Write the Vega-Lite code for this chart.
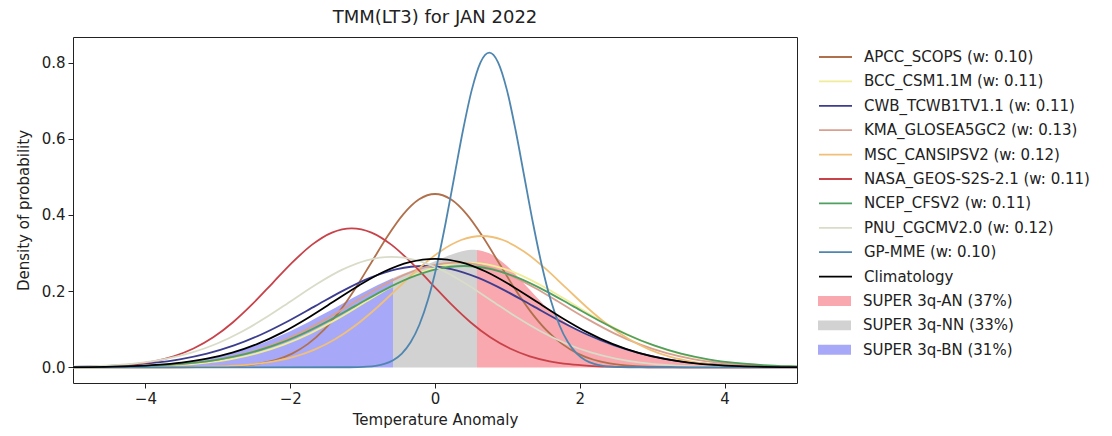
{
"$schema":"https://vega.github.io/schema/vega-lite/v6.json",
"width":724,"height":346,
"autosize":{"type":"none"},
"padding":{"left":73,"top":37,"right":315,"bottom":53},
"background":"white",
"config":{"font":"DejaVu Sans","view":{"stroke":"#222","strokeWidth":1}},
"title":{"text":"TMM(LT3) for JAN 2022","fontSize":18,"fontWeight":"normal","color":"#222","offset":10,"font":"DejaVu Sans"},
"datasets":{
"fills":[
{"m":"SUPER 3q-BN (31%)","x":-5,"y":0.0006},{"m":"SUPER 3q-BN (31%)","x":-4.5,"y":0.0018},{"m":"SUPER 3q-BN (31%)","x":-4,"y":0.0051},{"m":"SUPER 3q-BN (31%)","x":-3.5,"y":0.013},{"m":"SUPER 3q-BN (31%)","x":-3,"y":0.0288},{"m":"SUPER 3q-BN (31%)","x":-2.5,"y":0.0558},{"m":"SUPER 3q-BN (31%)","x":-2,"y":0.0951},{"m":"SUPER 3q-BN (31%)","x":-1.5,"y":0.1441},{"m":"SUPER 3q-BN (31%)","x":-1,"y":0.1961},{"m":"SUPER 3q-BN (31%)","x":-0.58,"y":0.2344},
{"m":"SUPER 3q-NN (33%)","x":-0.58,"y":0.2344},{"m":"SUPER 3q-NN (33%)","x":-0.5,"y":0.2408},{"m":"SUPER 3q-NN (33%)","x":-0.25,"y":0.2597},{"m":"SUPER 3q-NN (33%)","x":0,"y":0.2787},{"m":"SUPER 3q-NN (33%)","x":0.25,"y":0.2975},{"m":"SUPER 3q-NN (33%)","x":0.5,"y":0.3085},{"m":"SUPER 3q-NN (33%)","x":0.58,"y":0.3083},
{"m":"SUPER 3q-AN (37%)","x":0.58,"y":0.3083},{"m":"SUPER 3q-AN (37%)","x":0.75,"y":0.2994},{"m":"SUPER 3q-AN (37%)","x":1,"y":0.2652},{"m":"SUPER 3q-AN (37%)","x":1.25,"y":0.2152},{"m":"SUPER 3q-AN (37%)","x":1.5,"y":0.1652},{"m":"SUPER 3q-AN (37%)","x":2,"y":0.0949},{"m":"SUPER 3q-AN (37%)","x":2.5,"y":0.0544},{"m":"SUPER 3q-AN (37%)","x":3,"y":0.0288},{"m":"SUPER 3q-AN (37%)","x":3.5,"y":0.0137},{"m":"SUPER 3q-AN (37%)","x":4,"y":0.0059},{"m":"SUPER 3q-AN (37%)","x":4.5,"y":0.0023},{"m":"SUPER 3q-AN (37%)","x":5,"y":0.0008}
],
"lines":[
{"m":"APCC_SCOPS (w: 0.10)","x":-5,"y":0},{"m":"APCC_SCOPS (w: 0.10)","x":-3.508,"y":0.0002},{"m":"APCC_SCOPS (w: 0.10)","x":-3.289,"y":0.0004},{"m":"APCC_SCOPS (w: 0.10)","x":-3.07,"y":0.001},{"m":"APCC_SCOPS (w: 0.10)","x":-2.85,"y":0.0023},{"m":"APCC_SCOPS (w: 0.10)","x":-2.631,"y":0.0051},{"m":"APCC_SCOPS (w: 0.10)","x":-2.412,"y":0.0104},{"m":"APCC_SCOPS (w: 0.10)","x":-2.193,"y":0.02},{"m":"APCC_SCOPS (w: 0.10)","x":-1.973,"y":0.0362},{"m":"APCC_SCOPS (w: 0.10)","x":-1.754,"y":0.0616},{"m":"APCC_SCOPS (w: 0.10)","x":-1.535,"y":0.0984},{"m":"APCC_SCOPS (w: 0.10)","x":-1.316,"y":0.1477},{"m":"APCC_SCOPS (w: 0.10)","x":-1.096,"y":0.2083},{"m":"APCC_SCOPS (w: 0.10)","x":-0.877,"y":0.276},{"m":"APCC_SCOPS (w: 0.10)","x":-0.658,"y":0.3435},{"m":"APCC_SCOPS (w: 0.10)","x":-0.439,"y":0.4015},{"m":"APCC_SCOPS (w: 0.10)","x":-0.219,"y":0.441},{"m":"APCC_SCOPS (w: 0.10)","x":0,"y":0.455},{"m":"APCC_SCOPS (w: 0.10)","x":0.219,"y":0.441},{"m":"APCC_SCOPS (w: 0.10)","x":0.439,"y":0.4015},{"m":"APCC_SCOPS (w: 0.10)","x":0.658,"y":0.3435},{"m":"APCC_SCOPS (w: 0.10)","x":0.877,"y":0.276},{"m":"APCC_SCOPS (w: 0.10)","x":1.096,"y":0.2083},{"m":"APCC_SCOPS (w: 0.10)","x":1.316,"y":0.1477},{"m":"APCC_SCOPS (w: 0.10)","x":1.535,"y":0.0984},{"m":"APCC_SCOPS (w: 0.10)","x":1.754,"y":0.0616},{"m":"APCC_SCOPS (w: 0.10)","x":1.973,"y":0.0362},{"m":"APCC_SCOPS (w: 0.10)","x":2.193,"y":0.02},{"m":"APCC_SCOPS (w: 0.10)","x":2.412,"y":0.0104},{"m":"APCC_SCOPS (w: 0.10)","x":2.631,"y":0.0051},{"m":"APCC_SCOPS (w: 0.10)","x":2.85,"y":0.0023},{"m":"APCC_SCOPS (w: 0.10)","x":3.07,"y":0.001},{"m":"APCC_SCOPS (w: 0.10)","x":3.289,"y":0.0004},{"m":"APCC_SCOPS (w: 0.10)","x":3.508,"y":0.0002},{"m":"APCC_SCOPS (w: 0.10)","x":5,"y":0},
{"m":"BCC_CSM1.1M (w: 0.11)","x":-5.35,"y":0.0001},{"m":"BCC_CSM1.1M (w: 0.11)","x":-4.988,"y":0.0002},{"m":"BCC_CSM1.1M (w: 0.11)","x":-4.625,"y":0.0006},{"m":"BCC_CSM1.1M (w: 0.11)","x":-4.263,"y":0.0014},{"m":"BCC_CSM1.1M (w: 0.11)","x":-3.9,"y":0.0031},{"m":"BCC_CSM1.1M (w: 0.11)","x":-3.538,"y":0.0063},{"m":"BCC_CSM1.1M (w: 0.11)","x":-3.175,"y":0.0121},{"m":"BCC_CSM1.1M (w: 0.11)","x":-2.813,"y":0.0219},{"m":"BCC_CSM1.1M (w: 0.11)","x":-2.45,"y":0.0372},{"m":"BCC_CSM1.1M (w: 0.11)","x":-2.088,"y":0.0595},{"m":"BCC_CSM1.1M (w: 0.11)","x":-1.725,"y":0.0893},{"m":"BCC_CSM1.1M (w: 0.11)","x":-1.363,"y":0.1259},{"m":"BCC_CSM1.1M (w: 0.11)","x":-1.0,"y":0.1669},{"m":"BCC_CSM1.1M (w: 0.11)","x":-0.638,"y":0.2077},{"m":"BCC_CSM1.1M (w: 0.11)","x":-0.275,"y":0.2428},{"m":"BCC_CSM1.1M (w: 0.11)","x":0.088,"y":0.2666},{"m":"BCC_CSM1.1M (w: 0.11)","x":0.45,"y":0.2751},{"m":"BCC_CSM1.1M (w: 0.11)","x":0.813,"y":0.2666},{"m":"BCC_CSM1.1M (w: 0.11)","x":1.175,"y":0.2428},{"m":"BCC_CSM1.1M (w: 0.11)","x":1.538,"y":0.2077},{"m":"BCC_CSM1.1M (w: 0.11)","x":1.9,"y":0.1669},{"m":"BCC_CSM1.1M (w: 0.11)","x":2.263,"y":0.1259},{"m":"BCC_CSM1.1M (w: 0.11)","x":2.625,"y":0.0893},{"m":"BCC_CSM1.1M (w: 0.11)","x":2.988,"y":0.0595},{"m":"BCC_CSM1.1M (w: 0.11)","x":3.35,"y":0.0372},{"m":"BCC_CSM1.1M (w: 0.11)","x":3.713,"y":0.0219},{"m":"BCC_CSM1.1M (w: 0.11)","x":4.075,"y":0.0121},{"m":"BCC_CSM1.1M (w: 0.11)","x":4.438,"y":0.0063},{"m":"BCC_CSM1.1M (w: 0.11)","x":4.8,"y":0.0031},{"m":"BCC_CSM1.1M (w: 0.11)","x":5.163,"y":0.0014},
{"m":"CWB_TCWB1TV1.1 (w: 0.11)","x":-5.4,"y":0.0006},{"m":"CWB_TCWB1TV1.1 (w: 0.11)","x":-5.025,"y":0.0014},{"m":"CWB_TCWB1TV1.1 (w: 0.11)","x":-4.65,"y":0.003},{"m":"CWB_TCWB1TV1.1 (w: 0.11)","x":-4.275,"y":0.0061},{"m":"CWB_TCWB1TV1.1 (w: 0.11)","x":-3.9,"y":0.0117},{"m":"CWB_TCWB1TV1.1 (w: 0.11)","x":-3.525,"y":0.0212},{"m":"CWB_TCWB1TV1.1 (w: 0.11)","x":-3.15,"y":0.036},{"m":"CWB_TCWB1TV1.1 (w: 0.11)","x":-2.775,"y":0.0575},{"m":"CWB_TCWB1TV1.1 (w: 0.11)","x":-2.4,"y":0.0864},{"m":"CWB_TCWB1TV1.1 (w: 0.11)","x":-2.025,"y":0.1218},{"m":"CWB_TCWB1TV1.1 (w: 0.11)","x":-1.65,"y":0.1613},{"m":"CWB_TCWB1TV1.1 (w: 0.11)","x":-1.275,"y":0.2008},{"m":"CWB_TCWB1TV1.1 (w: 0.11)","x":-0.9,"y":0.2347},{"m":"CWB_TCWB1TV1.1 (w: 0.11)","x":-0.525,"y":0.2578},{"m":"CWB_TCWB1TV1.1 (w: 0.11)","x":-0.15,"y":0.266},{"m":"CWB_TCWB1TV1.1 (w: 0.11)","x":0.225,"y":0.2578},{"m":"CWB_TCWB1TV1.1 (w: 0.11)","x":0.6,"y":0.2347},{"m":"CWB_TCWB1TV1.1 (w: 0.11)","x":0.975,"y":0.2008},{"m":"CWB_TCWB1TV1.1 (w: 0.11)","x":1.35,"y":0.1613},{"m":"CWB_TCWB1TV1.1 (w: 0.11)","x":1.725,"y":0.1218},{"m":"CWB_TCWB1TV1.1 (w: 0.11)","x":2.1,"y":0.0864},{"m":"CWB_TCWB1TV1.1 (w: 0.11)","x":2.475,"y":0.0575},{"m":"CWB_TCWB1TV1.1 (w: 0.11)","x":2.85,"y":0.036},{"m":"CWB_TCWB1TV1.1 (w: 0.11)","x":3.225,"y":0.0212},{"m":"CWB_TCWB1TV1.1 (w: 0.11)","x":3.6,"y":0.0117},{"m":"CWB_TCWB1TV1.1 (w: 0.11)","x":3.975,"y":0.0061},{"m":"CWB_TCWB1TV1.1 (w: 0.11)","x":4.35,"y":0.003},{"m":"CWB_TCWB1TV1.1 (w: 0.11)","x":4.725,"y":0.0014},{"m":"CWB_TCWB1TV1.1 (w: 0.11)","x":5.1,"y":0.0006},
{"m":"KMA_GLOSEA5GC2 (w: 0.13)","x":-5.138,"y":0.0002},{"m":"KMA_GLOSEA5GC2 (w: 0.13)","x":-4.775,"y":0.0006},{"m":"KMA_GLOSEA5GC2 (w: 0.13)","x":-4.413,"y":0.0014},{"m":"KMA_GLOSEA5GC2 (w: 0.13)","x":-4.05,"y":0.0031},{"m":"KMA_GLOSEA5GC2 (w: 0.13)","x":-3.688,"y":0.0063},{"m":"KMA_GLOSEA5GC2 (w: 0.13)","x":-3.325,"y":0.0121},{"m":"KMA_GLOSEA5GC2 (w: 0.13)","x":-2.963,"y":0.0219},{"m":"KMA_GLOSEA5GC2 (w: 0.13)","x":-2.6,"y":0.0372},{"m":"KMA_GLOSEA5GC2 (w: 0.13)","x":-2.238,"y":0.0595},{"m":"KMA_GLOSEA5GC2 (w: 0.13)","x":-1.875,"y":0.0893},{"m":"KMA_GLOSEA5GC2 (w: 0.13)","x":-1.513,"y":0.1259},{"m":"KMA_GLOSEA5GC2 (w: 0.13)","x":-1.15,"y":0.1669},{"m":"KMA_GLOSEA5GC2 (w: 0.13)","x":-0.788,"y":0.2077},{"m":"KMA_GLOSEA5GC2 (w: 0.13)","x":-0.425,"y":0.2428},{"m":"KMA_GLOSEA5GC2 (w: 0.13)","x":-0.063,"y":0.2666},{"m":"KMA_GLOSEA5GC2 (w: 0.13)","x":0.3,"y":0.2751},{"m":"KMA_GLOSEA5GC2 (w: 0.13)","x":0.663,"y":0.2666},{"m":"KMA_GLOSEA5GC2 (w: 0.13)","x":1.025,"y":0.2428},{"m":"KMA_GLOSEA5GC2 (w: 0.13)","x":1.388,"y":0.2077},{"m":"KMA_GLOSEA5GC2 (w: 0.13)","x":1.75,"y":0.1669},{"m":"KMA_GLOSEA5GC2 (w: 0.13)","x":2.113,"y":0.1259},{"m":"KMA_GLOSEA5GC2 (w: 0.13)","x":2.475,"y":0.0893},{"m":"KMA_GLOSEA5GC2 (w: 0.13)","x":2.838,"y":0.0595},{"m":"KMA_GLOSEA5GC2 (w: 0.13)","x":3.2,"y":0.0372},{"m":"KMA_GLOSEA5GC2 (w: 0.13)","x":3.563,"y":0.0219},{"m":"KMA_GLOSEA5GC2 (w: 0.13)","x":3.925,"y":0.0121},{"m":"KMA_GLOSEA5GC2 (w: 0.13)","x":4.288,"y":0.0063},{"m":"KMA_GLOSEA5GC2 (w: 0.13)","x":4.65,"y":0.0031},{"m":"KMA_GLOSEA5GC2 (w: 0.13)","x":5.013,"y":0.0014},
{"m":"MSC_CANSIPSV2 (w: 0.12)","x":-5,"y":0},{"m":"MSC_CANSIPSV2 (w: 0.12)","x":-3.978,"y":0.0001},{"m":"MSC_CANSIPSV2 (w: 0.12)","x":-3.689,"y":0.0003},{"m":"MSC_CANSIPSV2 (w: 0.12)","x":-3.4,"y":0.0008},{"m":"MSC_CANSIPSV2 (w: 0.12)","x":-3.11,"y":0.0018},{"m":"MSC_CANSIPSV2 (w: 0.12)","x":-2.821,"y":0.0038},{"m":"MSC_CANSIPSV2 (w: 0.12)","x":-2.532,"y":0.0079},{"m":"MSC_CANSIPSV2 (w: 0.12)","x":-2.243,"y":0.0152},{"m":"MSC_CANSIPSV2 (w: 0.12)","x":-1.953,"y":0.0274},{"m":"MSC_CANSIPSV2 (w: 0.12)","x":-1.664,"y":0.0467},{"m":"MSC_CANSIPSV2 (w: 0.12)","x":-1.375,"y":0.0746},{"m":"MSC_CANSIPSV2 (w: 0.12)","x":-1.086,"y":0.1119},{"m":"MSC_CANSIPSV2 (w: 0.12)","x":-0.796,"y":0.1579},{"m":"MSC_CANSIPSV2 (w: 0.12)","x":-0.507,"y":0.2091},{"m":"MSC_CANSIPSV2 (w: 0.12)","x":-0.218,"y":0.2603},{"m":"MSC_CANSIPSV2 (w: 0.12)","x":0.072,"y":0.3043},{"m":"MSC_CANSIPSV2 (w: 0.12)","x":0.361,"y":0.3342},{"m":"MSC_CANSIPSV2 (w: 0.12)","x":0.65,"y":0.3448},{"m":"MSC_CANSIPSV2 (w: 0.12)","x":0.939,"y":0.3342},{"m":"MSC_CANSIPSV2 (w: 0.12)","x":1.229,"y":0.3043},{"m":"MSC_CANSIPSV2 (w: 0.12)","x":1.518,"y":0.2603},{"m":"MSC_CANSIPSV2 (w: 0.12)","x":1.807,"y":0.2091},{"m":"MSC_CANSIPSV2 (w: 0.12)","x":2.096,"y":0.1579},{"m":"MSC_CANSIPSV2 (w: 0.12)","x":2.386,"y":0.1119},{"m":"MSC_CANSIPSV2 (w: 0.12)","x":2.675,"y":0.0746},{"m":"MSC_CANSIPSV2 (w: 0.12)","x":2.964,"y":0.0467},{"m":"MSC_CANSIPSV2 (w: 0.12)","x":3.253,"y":0.0274},{"m":"MSC_CANSIPSV2 (w: 0.12)","x":3.543,"y":0.0152},{"m":"MSC_CANSIPSV2 (w: 0.12)","x":3.832,"y":0.0079},{"m":"MSC_CANSIPSV2 (w: 0.12)","x":4.121,"y":0.0038},{"m":"MSC_CANSIPSV2 (w: 0.12)","x":4.41,"y":0.0018},{"m":"MSC_CANSIPSV2 (w: 0.12)","x":4.7,"y":0.0008},{"m":"MSC_CANSIPSV2 (w: 0.12)","x":4.989,"y":0.0003},{"m":"MSC_CANSIPSV2 (w: 0.12)","x":5.278,"y":0.0001},
{"m":"NASA_GEOS-S2S-2.1 (w: 0.11)","x":-5.249,"y":0.0003},{"m":"NASA_GEOS-S2S-2.1 (w: 0.11)","x":-4.976,"y":0.0008},{"m":"NASA_GEOS-S2S-2.1 (w: 0.11)","x":-4.702,"y":0.0019},{"m":"NASA_GEOS-S2S-2.1 (w: 0.11)","x":-4.429,"y":0.0041},{"m":"NASA_GEOS-S2S-2.1 (w: 0.11)","x":-4.156,"y":0.0083},{"m":"NASA_GEOS-S2S-2.1 (w: 0.11)","x":-3.883,"y":0.016},{"m":"NASA_GEOS-S2S-2.1 (w: 0.11)","x":-3.609,"y":0.029},{"m":"NASA_GEOS-S2S-2.1 (w: 0.11)","x":-3.336,"y":0.0494},{"m":"NASA_GEOS-S2S-2.1 (w: 0.11)","x":-3.063,"y":0.0789},{"m":"NASA_GEOS-S2S-2.1 (w: 0.11)","x":-2.79,"y":0.1185},{"m":"NASA_GEOS-S2S-2.1 (w: 0.11)","x":-2.516,"y":0.1671},{"m":"NASA_GEOS-S2S-2.1 (w: 0.11)","x":-2.243,"y":0.2214},{"m":"NASA_GEOS-S2S-2.1 (w: 0.11)","x":-1.97,"y":0.2755},{"m":"NASA_GEOS-S2S-2.1 (w: 0.11)","x":-1.697,"y":0.3221},{"m":"NASA_GEOS-S2S-2.1 (w: 0.11)","x":-1.423,"y":0.3538},{"m":"NASA_GEOS-S2S-2.1 (w: 0.11)","x":-1.15,"y":0.365},{"m":"NASA_GEOS-S2S-2.1 (w: 0.11)","x":-0.877,"y":0.3538},{"m":"NASA_GEOS-S2S-2.1 (w: 0.11)","x":-0.604,"y":0.3221},{"m":"NASA_GEOS-S2S-2.1 (w: 0.11)","x":-0.33,"y":0.2755},{"m":"NASA_GEOS-S2S-2.1 (w: 0.11)","x":-0.057,"y":0.2214},{"m":"NASA_GEOS-S2S-2.1 (w: 0.11)","x":0.216,"y":0.1671},{"m":"NASA_GEOS-S2S-2.1 (w: 0.11)","x":0.49,"y":0.1185},{"m":"NASA_GEOS-S2S-2.1 (w: 0.11)","x":0.763,"y":0.0789},{"m":"NASA_GEOS-S2S-2.1 (w: 0.11)","x":1.036,"y":0.0494},{"m":"NASA_GEOS-S2S-2.1 (w: 0.11)","x":1.309,"y":0.029},{"m":"NASA_GEOS-S2S-2.1 (w: 0.11)","x":1.583,"y":0.016},{"m":"NASA_GEOS-S2S-2.1 (w: 0.11)","x":1.856,"y":0.0083},{"m":"NASA_GEOS-S2S-2.1 (w: 0.11)","x":2.129,"y":0.0041},{"m":"NASA_GEOS-S2S-2.1 (w: 0.11)","x":2.402,"y":0.0019},{"m":"NASA_GEOS-S2S-2.1 (w: 0.11)","x":2.676,"y":0.0008},{"m":"NASA_GEOS-S2S-2.1 (w: 0.11)","x":2.949,"y":0.0003},{"m":"NASA_GEOS-S2S-2.1 (w: 0.11)","x":3.222,"y":0.0001},{"m":"NASA_GEOS-S2S-2.1 (w: 0.11)","x":5,"y":0},
{"m":"NCEP_CFSV2 (w: 0.11)","x":-5.225,"y":0.0002},{"m":"NCEP_CFSV2 (w: 0.11)","x":-4.85,"y":0.0006},{"m":"NCEP_CFSV2 (w: 0.11)","x":-4.475,"y":0.0014},{"m":"NCEP_CFSV2 (w: 0.11)","x":-4.1,"y":0.003},{"m":"NCEP_CFSV2 (w: 0.11)","x":-3.725,"y":0.0061},{"m":"NCEP_CFSV2 (w: 0.11)","x":-3.35,"y":0.0117},{"m":"NCEP_CFSV2 (w: 0.11)","x":-2.975,"y":0.0212},{"m":"NCEP_CFSV2 (w: 0.11)","x":-2.6,"y":0.036},{"m":"NCEP_CFSV2 (w: 0.11)","x":-2.225,"y":0.0575},{"m":"NCEP_CFSV2 (w: 0.11)","x":-1.85,"y":0.0864},{"m":"NCEP_CFSV2 (w: 0.11)","x":-1.475,"y":0.1218},{"m":"NCEP_CFSV2 (w: 0.11)","x":-1.1,"y":0.1613},{"m":"NCEP_CFSV2 (w: 0.11)","x":-0.725,"y":0.2008},{"m":"NCEP_CFSV2 (w: 0.11)","x":-0.35,"y":0.2347},{"m":"NCEP_CFSV2 (w: 0.11)","x":0.025,"y":0.2578},{"m":"NCEP_CFSV2 (w: 0.11)","x":0.4,"y":0.266},{"m":"NCEP_CFSV2 (w: 0.11)","x":0.775,"y":0.2578},{"m":"NCEP_CFSV2 (w: 0.11)","x":1.15,"y":0.2347},{"m":"NCEP_CFSV2 (w: 0.11)","x":1.525,"y":0.2008},{"m":"NCEP_CFSV2 (w: 0.11)","x":1.9,"y":0.1613},{"m":"NCEP_CFSV2 (w: 0.11)","x":2.275,"y":0.1218},{"m":"NCEP_CFSV2 (w: 0.11)","x":2.65,"y":0.0864},{"m":"NCEP_CFSV2 (w: 0.11)","x":3.025,"y":0.0575},{"m":"NCEP_CFSV2 (w: 0.11)","x":3.4,"y":0.036},{"m":"NCEP_CFSV2 (w: 0.11)","x":3.775,"y":0.0212},{"m":"NCEP_CFSV2 (w: 0.11)","x":4.15,"y":0.0117},{"m":"NCEP_CFSV2 (w: 0.11)","x":4.525,"y":0.0061},{"m":"NCEP_CFSV2 (w: 0.11)","x":4.9,"y":0.003},{"m":"NCEP_CFSV2 (w: 0.11)","x":5.275,"y":0.0014},
{"m":"PNU_CGCMV2.0 (w: 0.12)","x":-5.072,"y":0.0015},{"m":"PNU_CGCMV2.0 (w: 0.12)","x":-4.728,"y":0.0032},{"m":"PNU_CGCMV2.0 (w: 0.12)","x":-4.384,"y":0.0066},{"m":"PNU_CGCMV2.0 (w: 0.12)","x":-4.04,"y":0.0127},{"m":"PNU_CGCMV2.0 (w: 0.12)","x":-3.696,"y":0.0231},{"m":"PNU_CGCMV2.0 (w: 0.12)","x":-3.352,"y":0.0392},{"m":"PNU_CGCMV2.0 (w: 0.12)","x":-3.008,"y":0.0627},{"m":"PNU_CGCMV2.0 (w: 0.12)","x":-2.664,"y":0.0941},{"m":"PNU_CGCMV2.0 (w: 0.12)","x":-2.32,"y":0.1327},{"m":"PNU_CGCMV2.0 (w: 0.12)","x":-1.976,"y":0.1758},{"m":"PNU_CGCMV2.0 (w: 0.12)","x":-1.632,"y":0.2188},{"m":"PNU_CGCMV2.0 (w: 0.12)","x":-1.288,"y":0.2558},{"m":"PNU_CGCMV2.0 (w: 0.12)","x":-0.944,"y":0.281},{"m":"PNU_CGCMV2.0 (w: 0.12)","x":-0.6,"y":0.2899},{"m":"PNU_CGCMV2.0 (w: 0.12)","x":-0.256,"y":0.281},{"m":"PNU_CGCMV2.0 (w: 0.12)","x":0.088,"y":0.2558},{"m":"PNU_CGCMV2.0 (w: 0.12)","x":0.432,"y":0.2188},{"m":"PNU_CGCMV2.0 (w: 0.12)","x":0.776,"y":0.1758},{"m":"PNU_CGCMV2.0 (w: 0.12)","x":1.12,"y":0.1327},{"m":"PNU_CGCMV2.0 (w: 0.12)","x":1.464,"y":0.0941},{"m":"PNU_CGCMV2.0 (w: 0.12)","x":1.808,"y":0.0627},{"m":"PNU_CGCMV2.0 (w: 0.12)","x":2.152,"y":0.0392},{"m":"PNU_CGCMV2.0 (w: 0.12)","x":2.496,"y":0.0231},{"m":"PNU_CGCMV2.0 (w: 0.12)","x":2.84,"y":0.0127},{"m":"PNU_CGCMV2.0 (w: 0.12)","x":3.184,"y":0.0066},{"m":"PNU_CGCMV2.0 (w: 0.12)","x":3.528,"y":0.0032},{"m":"PNU_CGCMV2.0 (w: 0.12)","x":3.872,"y":0.0015},{"m":"PNU_CGCMV2.0 (w: 0.12)","x":4.216,"y":0.0006},{"m":"PNU_CGCMV2.0 (w: 0.12)","x":4.56,"y":0.0003},{"m":"PNU_CGCMV2.0 (w: 0.12)","x":4.904,"y":0.0001},{"m":"PNU_CGCMV2.0 (w: 0.12)","x":5.248,"y":0},
{"m":"GP-MME (w: 0.10)","x":-5,"y":0},{"m":"GP-MME (w: 0.10)","x":-1.182,"y":0.0003},{"m":"GP-MME (w: 0.10)","x":-1.061,"y":0.0007},{"m":"GP-MME (w: 0.10)","x":-0.941,"y":0.0018},{"m":"GP-MME (w: 0.10)","x":-0.82,"y":0.0042},{"m":"GP-MME (w: 0.10)","x":-0.699,"y":0.0092},{"m":"GP-MME (w: 0.10)","x":-0.578,"y":0.0188},{"m":"GP-MME (w: 0.10)","x":-0.458,"y":0.0363},{"m":"GP-MME (w: 0.10)","x":-0.337,"y":0.0657},{"m":"GP-MME (w: 0.10)","x":-0.216,"y":0.1118},{"m":"GP-MME (w: 0.10)","x":-0.095,"y":0.1786},{"m":"GP-MME (w: 0.10)","x":0.026,"y":0.2682},{"m":"GP-MME (w: 0.10)","x":0.146,"y":0.3782},{"m":"GP-MME (w: 0.10)","x":0.267,"y":0.501},{"m":"GP-MME (w: 0.10)","x":0.388,"y":0.6235},{"m":"GP-MME (w: 0.10)","x":0.509,"y":0.7289},{"m":"GP-MME (w: 0.10)","x":0.629,"y":0.8006},{"m":"GP-MME (w: 0.10)","x":0.75,"y":0.826},{"m":"GP-MME (w: 0.10)","x":0.871,"y":0.8006},{"m":"GP-MME (w: 0.10)","x":0.992,"y":0.7289},{"m":"GP-MME (w: 0.10)","x":1.112,"y":0.6235},{"m":"GP-MME (w: 0.10)","x":1.233,"y":0.501},{"m":"GP-MME (w: 0.10)","x":1.354,"y":0.3782},{"m":"GP-MME (w: 0.10)","x":1.475,"y":0.2682},{"m":"GP-MME (w: 0.10)","x":1.595,"y":0.1786},{"m":"GP-MME (w: 0.10)","x":1.716,"y":0.1118},{"m":"GP-MME (w: 0.10)","x":1.837,"y":0.0657},{"m":"GP-MME (w: 0.10)","x":1.958,"y":0.0363},{"m":"GP-MME (w: 0.10)","x":2.078,"y":0.0188},{"m":"GP-MME (w: 0.10)","x":2.199,"y":0.0092},{"m":"GP-MME (w: 0.10)","x":2.32,"y":0.0042},{"m":"GP-MME (w: 0.10)","x":2.441,"y":0.0018},{"m":"GP-MME (w: 0.10)","x":2.561,"y":0.0007},{"m":"GP-MME (w: 0.10)","x":2.682,"y":0.0003},{"m":"GP-MME (w: 0.10)","x":5,"y":0},
{"m":"Climatology","x":-5.25,"y":0.0003},{"m":"Climatology","x":-4.9,"y":0.0006},{"m":"Climatology","x":-4.55,"y":0.0014},{"m":"Climatology","x":-4.2,"y":0.0032},{"m":"Climatology","x":-3.85,"y":0.0065},{"m":"Climatology","x":-3.5,"y":0.0125},{"m":"Climatology","x":-3.15,"y":0.0227},{"m":"Climatology","x":-2.8,"y":0.0386},{"m":"Climatology","x":-2.45,"y":0.0616},{"m":"Climatology","x":-2.1,"y":0.0925},{"m":"Climatology","x":-1.75,"y":0.1305},{"m":"Climatology","x":-1.4,"y":0.1729},{"m":"Climatology","x":-1.05,"y":0.2151},{"m":"Climatology","x":-0.7,"y":0.2515},{"m":"Climatology","x":-0.35,"y":0.2762},{"m":"Climatology","x":0,"y":0.285},{"m":"Climatology","x":0.35,"y":0.2762},{"m":"Climatology","x":0.7,"y":0.2515},{"m":"Climatology","x":1.05,"y":0.2151},{"m":"Climatology","x":1.4,"y":0.1729},{"m":"Climatology","x":1.75,"y":0.1305},{"m":"Climatology","x":2.1,"y":0.0925},{"m":"Climatology","x":2.45,"y":0.0616},{"m":"Climatology","x":2.8,"y":0.0386},{"m":"Climatology","x":3.15,"y":0.0227},{"m":"Climatology","x":3.5,"y":0.0125},{"m":"Climatology","x":3.85,"y":0.0065},{"m":"Climatology","x":4.2,"y":0.0032},{"m":"Climatology","x":4.55,"y":0.0014},{"m":"Climatology","x":4.9,"y":0.0006},{"m":"Climatology","x":5.25,"y":0.0003}
]
},
"layer":[
{"data":{"name":"fills"},
 "mark":{"type":"area","interpolate":"monotone","opacity":1,"clip":true},
 "encoding":{
  "x":{"field":"x","type":"quantitative","scale":{"domain":[-5,5],"nice":false,"zero":false},
   "axis":{"title":"Temperature Anomaly","values":[-4,-2,0,2,4],"format":"d","domain":false,"grid":false,"tickSize":5,"tickColor":"#222","labelFontSize":15,"labelColor":"#222","labelPadding":3,"titleFontSize":15,"titleFontWeight":"normal","titleColor":"#222","titlePadding":6,"labelFont":"DejaVu Sans","titleFont":"DejaVu Sans"}},
  "y":{"field":"y","type":"quantitative","stack":null,"scale":{"domain":[-0.041,0.867],"nice":false,"zero":false},
   "axis":{"title":"Density of probability","values":[0,0.2,0.4,0.6,0.8],"format":".1f","domain":false,"grid":false,"tickSize":5,"tickColor":"#222","labelFontSize":15,"labelColor":"#222","labelPadding":3,"titleFontSize":15,"titleFontWeight":"normal","titleColor":"#222","titlePadding":10,"labelFont":"DejaVu Sans","titleFont":"DejaVu Sans"}},
  "fill":{"field":"m","type":"nominal",
   "scale":{"domain":["SUPER 3q-AN (37%)","SUPER 3q-NN (33%)","SUPER 3q-BN (31%)"],"range":["#f8a8ae","#d2d2d2","#a8a8f8"]},
   "legend":{"title":null,"orient":"none","legendX":735,"legendY":244,"symbolType":"M-1,-0.3H1V0.3H-1Z","symbolSize":1089,"symbolStrokeWidth":0,"symbolOpacity":1,"labelFontSize":15,"labelFont":"DejaVu Sans","labelColor":"#222","labelLimit":400,"labelOffset":12,"padding":10,"rowPadding":4.4,"clipHeight":20}}
 }},
{"data":{"name":"lines"},
 "mark":{"type":"line","interpolate":"monotone","strokeWidth":1.8,"clip":true},
 "encoding":{
  "x":{"field":"x","type":"quantitative"},
  "y":{"field":"y","type":"quantitative"},
  "stroke":{"field":"m","type":"nominal",
   "scale":{"domain":["APCC_SCOPS (w: 0.10)","BCC_CSM1.1M (w: 0.11)","CWB_TCWB1TV1.1 (w: 0.11)","KMA_GLOSEA5GC2 (w: 0.13)","MSC_CANSIPSV2 (w: 0.12)","NASA_GEOS-S2S-2.1 (w: 0.11)","NCEP_CFSV2 (w: 0.11)","PNU_CGCMV2.0 (w: 0.12)","GP-MME (w: 0.10)","Climatology"],
            "range":["#b0704c","#f0ec98","#3d3d8f","#d8a090","#f0c078","#c8424a","#4f9f60","#d8dcc8","#4f86b0","#000000"]},
   "legend":{"title":null,"orient":"none","legendX":735,"legendY":0,"symbolType":"stroke","symbolSize":1089,"symbolStrokeWidth":1.8,"labelFontSize":15,"labelFont":"DejaVu Sans","labelColor":"#222","labelLimit":400,"labelOffset":11,"padding":10,"rowPadding":4.4,"clipHeight":20}}
 }}
]
}
